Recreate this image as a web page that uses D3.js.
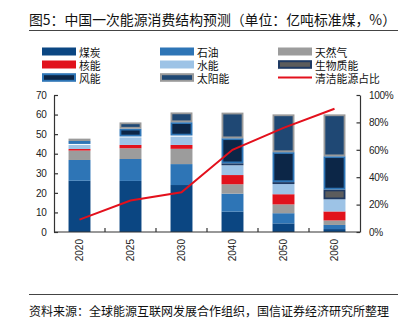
<!DOCTYPE html>
<html><head><meta charset="utf-8">
<script src="https://cdn.jsdelivr.net/npm/d3@7"></script>
<style>
html,body{margin:0;padding:0;background:#fff;}
svg{display:block;}
text{font-family:"Liberation Sans",Arial,sans-serif;}
.cjk{font-family:"Noto Sans CJK SC","Noto Sans",sans-serif;}
</style></head>
<body>
<script>
const years = ['2020','2025','2030','2040','2050','2060'];
const coal    = [26.2, 26.1, 24.0, 10.4, 4.4, 1.5];
const oil     = [10.6, 11.2, 10.7, 9.2, 5.2, 2.1];
const gas     = [4.8, 5.5, 7.8, 4.8, 4.5, 2.3];
const nuclear = [0.8, 1.7, 2.0, 4.7, 5.2, 4.6];
const hydro   = [2.1, 3.8, 4.2, 5.0, 5.2, 6.2];
const biomass = [0.5, 0.5, 0.6, 1.0, 1.0, 5.0];
const wind    = [1.5, 4.0, 6.8, 12.8, 15.3, 17.0];
const solar   = [1.2, 3.2, 5.0, 13.1, 19.3, 21.4];
const cleanShare = [0.09, 0.23, 0.29, 0.60, 0.76, 0.90];
const leftTicks = [0,10,20,30,40,50,60,70];
const rightTicks = [0,0.2,0.4,0.6,0.8,1.0];

const seriesNames = ['煤炭','石油','天然气','核能','水能','生物质能','风能','太阳能'];
const seriesData = [coal, oil, gas, nuclear, hydro, biomass, wind, solar];
const styles = [
  {fill:'#0b4682', stroke:null},
  {fill:'#2e75b6', stroke:null},
  {fill:'#9c9c9c', stroke:null},
  {fill:'#e1121c', stroke:null},
  {fill:'#9dc3e6', stroke:null},
  {fill:'#5c5c5c', stroke:'#1f3a63'},
  {fill:'#0c2647', stroke:'#2e75b6'},
  {fill:'#1f4874', stroke:'#9a9a9a'}
];
const lineName = '清洁能源占比';
const lineColor = '#e3101c';

const W = 408, H = 322;
const svg = d3.select('body').append('svg').attr('width', W).attr('height', H);

// Title
svg.append('text').attr('class','cjk').attr('x',29).attr('y',18.5)
  .attr('dominant-baseline','central').attr('font-size',14).attr('fill','#111')
  .attr('textLength',367).attr('lengthAdjust','spacingAndGlyphs')
  .text('图5：中国一次能源消费结构预测（单位：亿吨标准煤，%）');
svg.append('line').attr('x1',29).attr('x2',398).attr('y1',30.5).attr('y2',30.5)
  .attr('stroke','#444').attr('stroke-width',1);

// Footer
svg.append('line').attr('x1',29).attr('x2',398).attr('y1',294.5).attr('y2',294.5)
  .attr('stroke','#444').attr('stroke-width',1);
svg.append('text').attr('class','cjk').attr('x',29).attr('y',310)
  .attr('dominant-baseline','central').attr('font-size',12.5).attr('fill','#111')
  .attr('textLength',360).attr('lengthAdjust','spacingAndGlyphs')
  .text('资料来源：全球能源互联网发展合作组织，国信证券经济研究所整理');

// Legend
const legCols = [42, 160, 278];
const legRows = [51.5, 64.5, 77.5];
const legendItems = seriesNames.map((n,i)=>({name:n, style:styles[i]}));
legendItems.push({name:lineName, line:true});
legendItems.forEach((it, i) => {
  const col = i % 3, row = Math.floor(i / 3);
  const x = legCols[col], yc = legRows[row];
  const g = svg.append('g');
  if (it.line) {
    g.append('line').attr('x1',x).attr('x2',x+34).attr('y1',yc).attr('y2',yc)
      .attr('stroke',lineColor).attr('stroke-width',2);
  } else if (it.style.stroke) {
    g.append('rect').attr('x',x+1).attr('y',yc-3.3).attr('width',32).attr('height',6.6)
      .attr('fill',it.style.fill).attr('stroke',it.style.stroke).attr('stroke-width',2);
  } else {
    g.append('rect').attr('x',x).attr('y',yc-4).attr('width',34).attr('height',8)
      .attr('fill',it.style.fill);
  }
  g.append('text').attr('class','cjk').attr('x',x+37).attr('y',yc)
    .attr('dominant-baseline','central').attr('font-size',10.8).attr('fill','#111')
    .text(it.name);
});

// Scales
const x = d3.scaleBand().domain(years).range([54,360]).paddingInner(0.57).paddingOuter(0.285);
const y = d3.scaleLinear().domain([0,70]).range([232,95]);
const y2 = d3.scaleLinear().domain([0,1]).range([232,95]);

// Stacked bars
const rows = years.map((yr,i) => {
  const o = {year: yr};
  seriesNames.forEach((n,k) => o[n] = seriesData[k][i]);
  return o;
});
const stack = d3.stack().keys(seriesNames)(rows);
stack.forEach((layer, k) => {
  const st = styles[k];
  svg.append('g').selectAll('rect').data(layer).join('rect')
    .attr('x', d => x(d.data.year) + (st.stroke ? 0.9 : 0))
    .attr('width', x.bandwidth() - (st.stroke ? 1.8 : 0))
    .attr('y', d => y(d[1]) + (st.stroke ? 0.9 : 0))
    .attr('height', d => Math.max(0, y(d[0]) - y(d[1]) - (st.stroke ? 1.8 : 0)))
    .attr('fill', st.fill)
    .attr('stroke', st.stroke || 'none')
    .attr('stroke-width', st.stroke ? 1.8 : 0);
});

// Axes
const axisColor = '#333';
const gl = svg.append('g').attr('transform','translate(54,0)')
  .call(d3.axisLeft(y).tickValues(leftTicks).tickSizeInner(-4).tickSizeOuter(0).tickPadding(7.5));
const gr = svg.append('g').attr('transform','translate(360,0)')
  .call(d3.axisRight(y2).tickValues(rightTicks).tickFormat(d3.format('.0%')).tickSizeInner(-3.5).tickSizeOuter(0).tickPadding(9));
[gl, gr].forEach(g => {
  g.select('.domain').attr('stroke',axisColor).attr('stroke-width',1.2);
  g.selectAll('.tick line').attr('stroke',axisColor).attr('stroke-width',1.2);
  g.selectAll('.tick text').attr('font-size',10).attr('fill','#222')
    .attr('font-family','"Liberation Sans",Arial,sans-serif').attr('letter-spacing',-0.3);
});

// Bottom axis
const gb = svg.append('g');
gb.append('line').attr('x1',54).attr('x2',360).attr('y1',y(0)).attr('y2',y(0))
  .attr('stroke',axisColor).attr('stroke-width',1.2);
const gap = x.step() - x.bandwidth();
years.slice(1).forEach(yr => {
  const bx = x(yr) - gap/2;
  gb.append('line').attr('x1',bx).attr('x2',bx).attr('y1',y(0)).attr('y2',y(0)-4)
    .attr('stroke',axisColor).attr('stroke-width',1.2);
});
years.forEach(yr => {
  const cx = x(yr) + x.bandwidth()/2;
  gb.append('text').attr('transform',`translate(${cx},239) rotate(-90)`)
    .attr('text-anchor','end').attr('dominant-baseline','central')
    .attr('font-size',10).attr('fill','#222').text(yr);
});

// Line
const line = d3.line().x((d,i) => x(years[i]) + x.bandwidth()/2).y(d => y2(d));
svg.append('path').datum(cleanShare).attr('d', line)
  .attr('fill','none').attr('stroke',lineColor).attr('stroke-width',2);
</script>
</body></html>
